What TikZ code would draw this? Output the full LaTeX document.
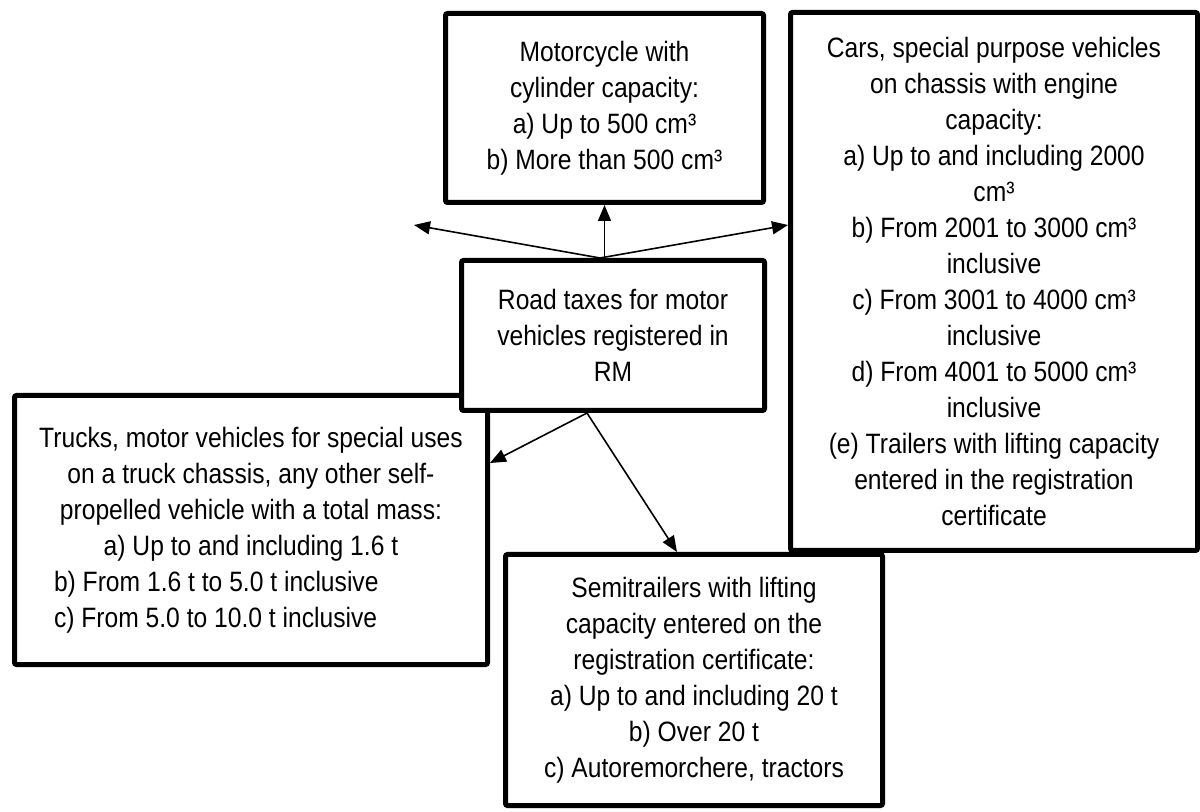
\documentclass[tikz,border=0pt]{standalone}
\usepackage{fontspec}
\setmainfont{Liberation Sans}[FakeStretch=0.88]
\usetikzlibrary{arrows.meta}

\begin{document}
\begin{tikzpicture}[
    x=0.5pt, y=-0.5pt,
    catbox/.style={
      draw,
      line width=2.5pt,
      rounded corners=1pt,
      fill=white,
      inner sep=0pt,
      align=center,
      font=\fontsize{14}{18}\selectfont
    },
    flow/.style={-{Triangle[length=8pt, width=6.5pt]}, line width=0.8pt}
  ]
    \useasboundingbox (0,0) rectangle (1200,812);

    % categories round the central box
    \node[catbox, minimum width=236.5pt, minimum height=134.5pt] (trucks) at (251,530)
      {Trucks, motor vehicles for special uses\\
       on a truck chassis, any other self-\\
       propelled vehicle with a total mass:\\
       a) Up to and including 1.6 t\\
       \makebox[197pt][l]{b) From 1.6 t to 5.0 t inclusive}\\
       \makebox[197pt][l]{c) From 5.0 to 10.0 t inclusive}};
    \node[catbox, minimum width=159pt, minimum height=94.5pt] (moto) at (604.5,108)
      {Motorcycle with\\
       cylinder capacity:\\
       a) Up to 500 cm³\\
       b) More than 500 cm³};
    \node[catbox, minimum width=203.5pt, minimum height=269pt] (cars) at (994,281.5)
      {Cars, special purpose vehicles\\
       on chassis with engine\\
       capacity:\\
       a) Up to and including 2000\\
       cm³\\
       b) From 2001 to 3000 cm³\\
       inclusive\\
       c) From 3001 to 4000 cm³\\
       inclusive\\
       d) From 4001 to 5000 cm³\\
       inclusive\\
       (e) Trailers with lifting capacity\\
       entered in the registration\\
       certificate};
    \node[catbox, minimum width=188.5pt, minimum height=125.5pt] (semi) at (694,680)
      {Semitrailers with lifting\\
       capacity entered on the\\
       registration certificate:\\
       a) Up to and including 20 t\\
       b) Over 20 t\\
       c) Autoremorchere, tractors};

    % central box
    \node[catbox, minimum width=151.5pt, minimum height=75pt] (taxes) at (613,335.5)
      {Road taxes for motor\\
       vehicles registered in\\
       RM};

    \coordinate (fork) at ([xshift=-6.5pt]taxes.north);
    \coordinate (base) at ([xshift=-13pt]taxes.south);
    \coordinate (lefttip) at (414,225);

    \draw[flow] (taxes.north -| moto.south) -- (moto.south);
    \draw[flow] (fork) -- (lefttip);
    \draw[flow] (fork) -- (cars.west |- lefttip);
    \draw[flow] (base) -- ([yshift=-35pt]trucks.north east);
    \draw[flow] (base) -- ([xshift=-8.5pt]semi.north);
  \end{tikzpicture}
\end{document}
